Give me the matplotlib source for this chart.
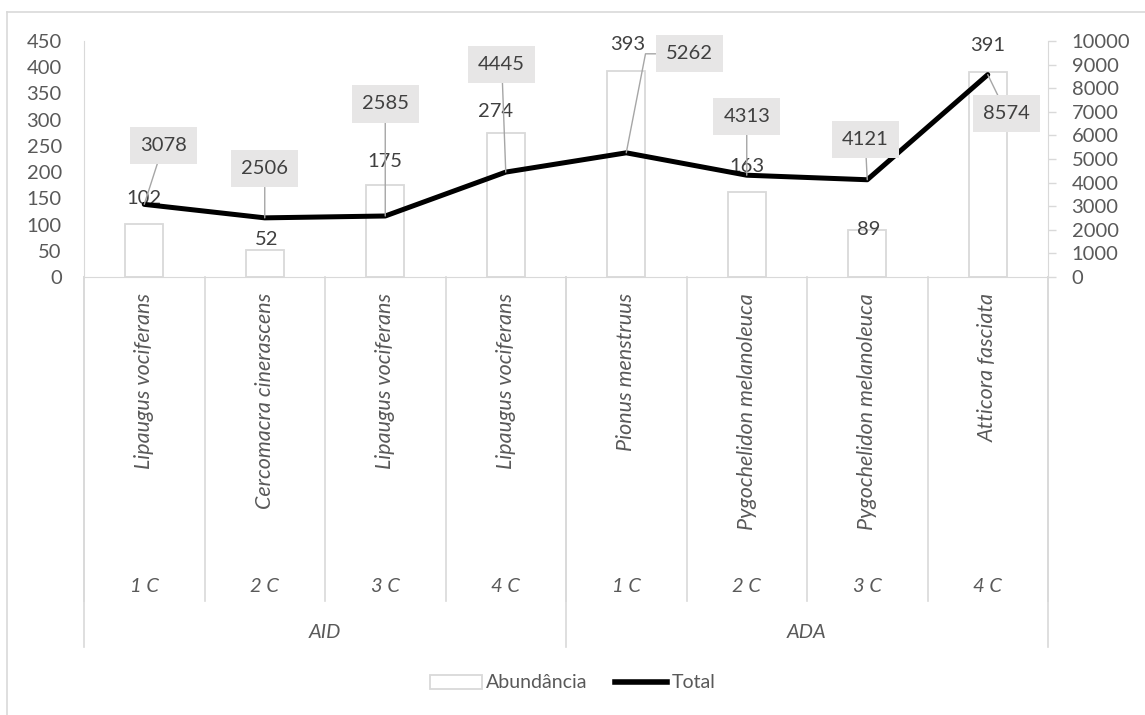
import numpy as np
import matplotlib
matplotlib.use("Agg")
from matplotlib import pyplot as plt
from matplotlib.transforms import blended_transform_factory
from matplotlib.lines import Line2D
from matplotlib.patches import Patch

plt.rcParams['font.family'] = ['Lato', 'DejaVu Sans']

# dados
especies = ["Lipaugus vociferans", "Cercomacra cinerascens", "Lipaugus vociferans",
            "Lipaugus vociferans", "Pionus menstruus", "Pygochelidon melanoleuca",
            "Pygochelidon melanoleuca", "Atticora fasciata"]
campanhas = ["1 C", "2 C", "3 C", "4 C", "1 C", "2 C", "3 C", "4 C"]
areas = ["AID", "ADA"]
abundancia = [102, 52, 175, 274, 393, 163, 89, 391]
total = [3078, 2506, 2585, 4445, 5262, 4313, 4121, 8574]

# deslocamento dos rotulos (pixels)
desl_barra = [(0, 25), (2, 10), (0, 24), (-10, 22), (1, 26), (0, 25), (1, 1), (0, 26)]
desl_linha = [(19, 59), (0, 49), (0, 112), (-4, 108), (63, 99), (0, 59), (-2, 40), (19, -39)]

cinza = "#d9d9d9"
texto = "#595959"
fs = 14.5
W, H = 1145, 715
fig = plt.figure(figsize=(W / 100, H / 100), dpi=100)

# area do grafico em pixels
x0, x1, ytop, ybot = 84, 1048, 41, 277
ax = fig.add_axes([x0 / W, 1 - ybot / H, (x1 - x0) / W, (ybot - ytop) / H])
ax2 = ax.twinx()

x = np.arange(len(abundancia))
ax.bar(x, abundancia, width=0.315, facecolor="white", edgecolor=cinza, linewidth=1.3)
ax.set_xlim(-0.5, len(x) - 0.5)
ax.set_ylim(0, 450)
ax.set_yticks(np.arange(0, 451, 50))
ax.set_xticks([])
ax.tick_params(axis="y", length=0, pad=16, labelsize=fs, labelcolor=texto)

ax2.plot(x, total, color="black", linewidth=3.6, solid_capstyle="round", solid_joinstyle="round")
ax2.set_ylim(0, 10000)
ax2.set_yticks(np.arange(0, 10001, 1000))
ax2.tick_params(axis="y", length=6, width=1, color=cinza, pad=11, labelsize=fs, labelcolor=texto)

for a in (ax, ax2):
    for s in a.spines.values():
        s.set_visible(False)
ax.spines["left"].set_visible(True)
ax.spines["left"].set_color(cinza)
ax.spines["bottom"].set_visible(True)
ax.spines["bottom"].set_color(cinza)
ax2.spines["right"].set_visible(True)
ax2.spines["right"].set_color(cinza)

# rotulos das barras
for i, v in enumerate(abundancia):
    ax.annotate(str(v), (x[i], v), xytext=desl_barra[i], textcoords="offset pixels",
                ha="center", va="center", fontsize=fs, color="#404040")

# rotulos da linha com caixa e linha de chamada
for i, v in enumerate(total):
    cs = "arc3"
    if i == 4:
        cs = "angle,angleA=0,angleB=79,rad=0"
    ax2.annotate(str(v), (x[i], v), xytext=desl_linha[i], textcoords="offset pixels",
                 ha="center", va="center", fontsize=fs, color="#404040",
                 bbox=dict(boxstyle="square,pad=0.5", fc="#e7e6e6", ec="none"),
                 arrowprops=dict(arrowstyle="-", color="#a6a6a6", lw=1,
                                 shrinkA=0, shrinkB=0, connectionstyle=cs))

# eixo de categorias em varios niveis
tr = blended_transform_factory(ax.transData, ax.transAxes)
def fr(ypx):
    return (ybot - ypx) / (ybot - ytop)

for b in np.arange(-0.5, len(x), 1.0):
    ax.plot([b, b], [0, fr(601)], transform=tr, color=cinza, lw=1.2, clip_on=False)
for b in [-0.5, 3.5, 7.5]:
    ax.plot([b, b], [0, fr(647)], transform=tr, color=cinza, lw=1.2, clip_on=False)

for i in range(len(x)):
    ax.text(x[i], fr(293), especies[i], transform=tr, rotation=90, ha="center", va="top",
            fontsize=15.5, style="italic", color=texto)
    ax.text(x[i], fr(587), campanhas[i], transform=tr, ha="center", va="center",
            fontsize=fs, style="italic", color=texto)
for j, nome in enumerate(areas):
    ax.text(1.5 + 4 * j, fr(633), nome, transform=tr, ha="center", va="center",
            fontsize=fs, style="italic", color=texto)

# legenda
handles = [Patch(facecolor="white", edgecolor=cinza, linewidth=1.3),
           Line2D([], [], color="black", linewidth=4)]
fig.legend(handles, ["Abundância", "Total"], loc="center", bbox_to_anchor=(0.5, 1 - 683 / H),
           ncol=2, frameon=False, fontsize=14, labelcolor=texto, handlelength=2.7,
           handleheight=0.7, handletextpad=0.2, columnspacing=1.4)

# borda do grafico
fig.add_artist(Line2D([7 / W, 7 / W], [0, 1 - 12 / H], color=cinza, lw=1.2))
fig.add_artist(Line2D([7 / W, 1], [1 - 12 / H, 1 - 12 / H], color=cinza, lw=1.2))

fig.savefig("out.png", dpi=100)
